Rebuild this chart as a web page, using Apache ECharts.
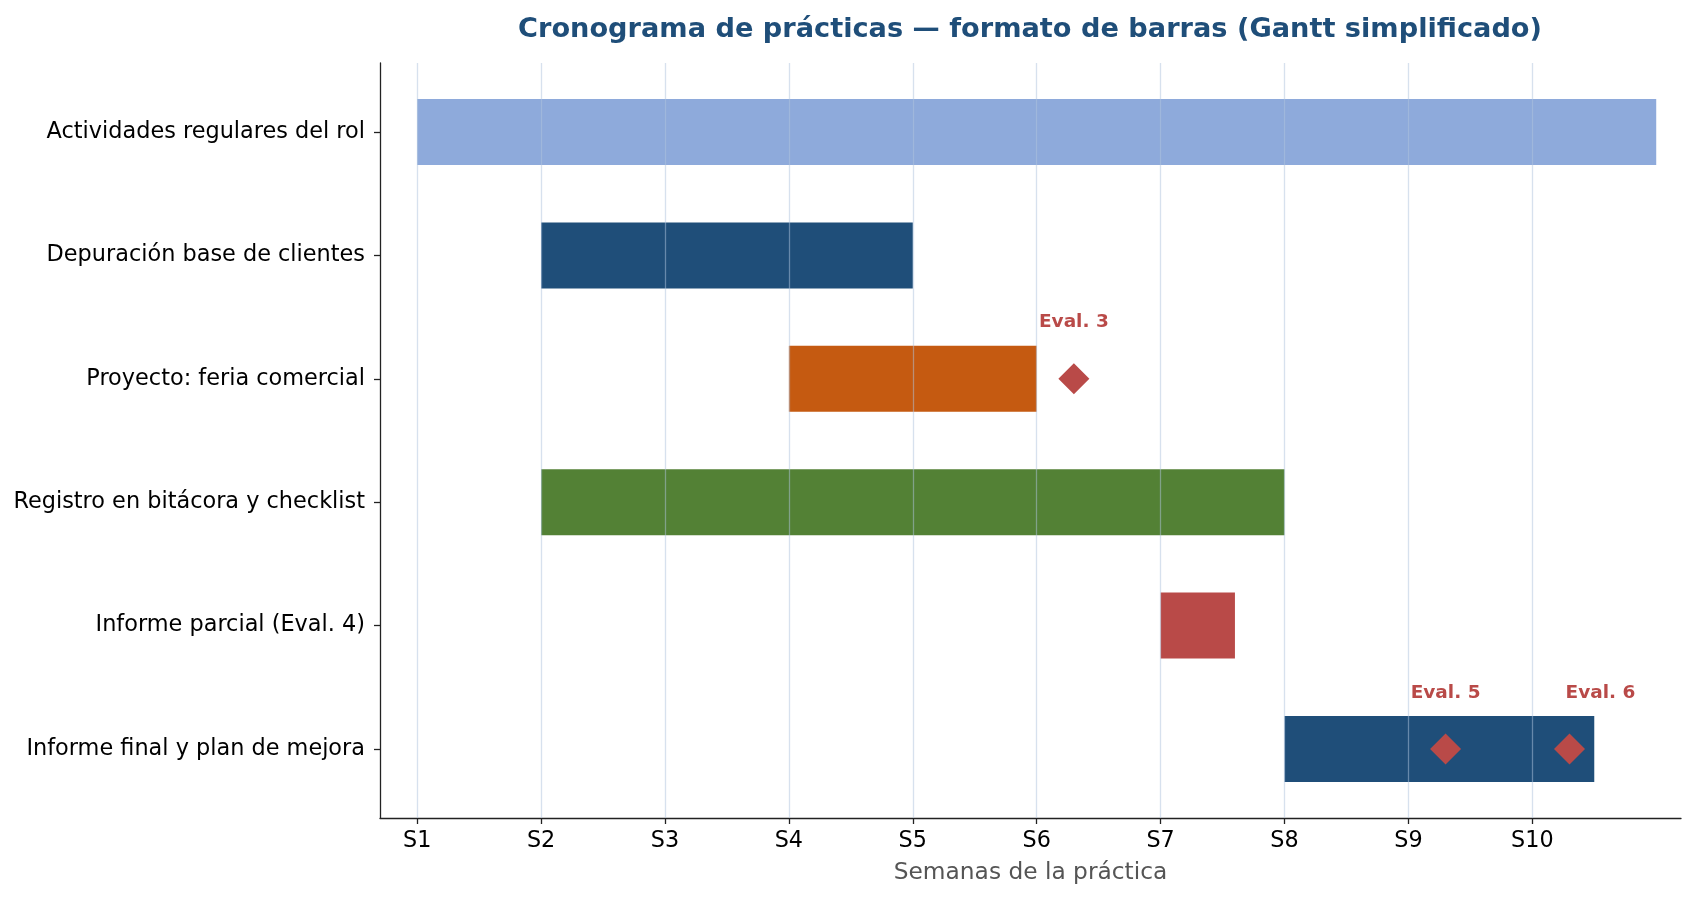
<!DOCTYPE html>
<html>
<head>
<meta charset="utf-8">
<title>Cronograma de prácticas</title>
<script src="https://cdn.jsdelivr.net/npm/echarts@6/dist/echarts.min.js"></script>
<style>
html,body{margin:0;padding:0;background:#fff;}
#chart{width:1695px;height:897px;}
</style>
</head>
<body>
<div id="chart"></div>
<script>

// tareas (de arriba hacia abajo)
const tasks = [
  "Actividades regulares del rol",
  "Depuración base de clientes",
  "Proyecto: feria comercial",
  "Registro en bitácora y checklist",
  "Informe parcial (Eval. 4)",
  "Informe final y plan de mejora"
]
const starts = [1, 2, 4, 2, 7, 8]
const durations = [10, 3, 2, 6, 0.6, 2.5]
const barColors = ["#8eaadb", "#1f4e79", "#c55a11", "#538135", "#b94a48", "#1f4e79"]

// evaluaciones (hitos)
const evalLabels = ["Eval. 3", "Eval. 5", "Eval. 6"]
const evalWeeks = [6.3, 9.3, 10.3]
const evalRows = [2, 5, 5]
const evalLabelWeeks = [6.3, 9.3, 10.55]

// eje x
const weekValues = [1, 2, 3, 4, 5, 6, 7, 8, 9, 10]
const weekLabels = ["S1", "S2", "S3", "S4", "S5", "S6", "S7", "S8", "S9", "S10"]

const rowIdx = tasks.map((t, i) => i)
const font = "DejaVu Sans"
const evalColor = "#b94a48"
const labelLift = 0.455 // separacion vertical del texto sobre el hito

const chart = echarts.init(document.getElementById("chart"), null, {renderer: "canvas"})

chart.setOption({
  animation: false,
  backgroundColor: "#fff",
  title: {
    text: "Cronograma de prácticas — formato de barras (Gantt simplificado)",
    left: 1025,
    top: 11,
    textAlign: "center",
    textStyle: {fontFamily: font, fontSize: 27.2, fontWeight: "bold", color: "#1f4e79"}
  },
  grid: {left: 380, right: 14, top: 63, bottom: 79},
  xAxis: {
    type: "value",
    min: 0.7,
    max: 11.2,
    name: "Semanas de la práctica",
    nameLocation: "middle",
    nameGap: 43,
    nameTextStyle: {fontFamily: font, fontSize: 23.3, color: "#555"},
    axisLine: {onZero: false, lineStyle: {color: "#222", width: 1.3}},
    axisTick: {show: true, length: 6, customValues: weekValues, lineStyle: {color: "#222", width: 1.3}},
    axisLabel: {
      customValues: weekValues,
      margin: 12,
      fontFamily: font, fontSize: 22.3, color: "#000",
      formatter: v => weekLabels[weekValues.indexOf(v)]
    },
    splitLine: {show: false}
  },
  yAxis: {
    type: "value",
    inverse: true,
    min: -0.56,
    max: 5.56,
    axisLine: {show: true, onZero: false, lineStyle: {color: "#222", width: 1.3}},
    axisTick: {show: true, length: 6, customValues: rowIdx, lineStyle: {color: "#222", width: 1.3}},
    axisLabel: {
      customValues: rowIdx,
      margin: 15,
      fontFamily: font, fontSize: 22.4, color: "#000",
      formatter: v => tasks[v]
    },
    splitLine: {show: false}
  },
  series: [
    {
      type: "custom",
      z: 2,
      data: tasks.map((t, i) => [starts[i], starts[i] + durations[i], i]),
      renderItem: function (params, api) {
        const a = api.coord([api.value(0), api.value(2)])
        const b = api.coord([api.value(1), api.value(2)])
        const h = api.size([0, 0.535])[1]
        return {
          type: "rect",
          shape: {x: a[0], y: a[1] - h / 2, width: b[0] - a[0], height: h},
          style: {fill: barColors[params.dataIndex]}
        }
      }
    },
    {
      type: "scatter",
      z: 3,
      symbol: "diamond",
      symbolSize: [31, 31],
      itemStyle: {color: evalColor, opacity: 1},
      data: evalWeeks.map((w, i) => [w, evalRows[i]]),
      markLine: {
        silent: true,
        symbol: "none",
        z: 2.5,
        label: {show: false},
        lineStyle: {color: "rgba(176,196,222,0.5)", width: 1.3, type: "solid"},
        data: weekValues.map(v => ({xAxis: v}))
      }
    },
    {
      type: "scatter",
      z: 4,
      symbolSize: 0,
      silent: true,
      itemStyle: {color: evalColor, opacity: 1},
      data: evalLabelWeeks.map((w, i) => ({value: [w, evalRows[i] - labelLift], name: evalLabels[i]})),
      label: {
        show: true,
        position: "inside",
        formatter: p => p.name,
        fontFamily: font, fontSize: 18.5, fontWeight: "bold", color: evalColor
      }
    }
  ]
})

</script>
</body>
</html>
